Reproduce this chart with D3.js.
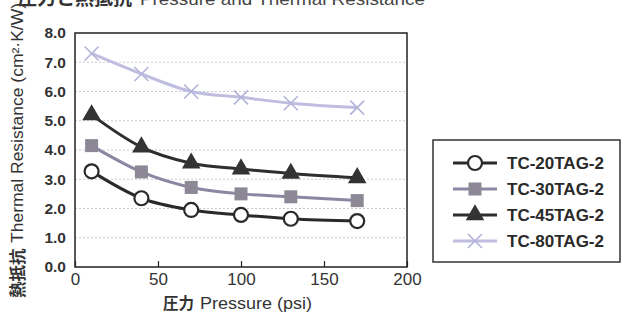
<!DOCTYPE html>
<html>
<head>
<meta charset="utf-8">
<script src="https://cdn.jsdelivr.net/npm/d3@7"></script>
<style>
  body { margin: 0; background: #fff; }
  svg text { font-family: "Liberation Sans", Arial, sans-serif; }
  .jp { font-family: "Noto Sans CJK JP", sans-serif; font-weight: bold; }
</style>
</head>
<body>
<div id="chart"></div>
<script>
// data
var pressure = [10, 40, 70, 100, 130, 170];
var seriesNames = ["TC-20TAG-2", "TC-30TAG-2", "TC-45TAG-2", "TC-80TAG-2"];
var tc20 = [3.27, 2.35, 1.95, 1.78, 1.65, 1.57];
var tc30 = [4.15, 3.25, 2.72, 2.5, 2.4, 2.27];
var tc45 = [5.2, 4.1, 3.55, 3.35, 3.2, 3.05];
var tc80 = [7.3, 6.6, 6.0, 5.8, 5.6, 5.45];
var xTicks = [0, 50, 100, 150, 200];
var yTicks = [0, 1, 2, 3, 4, 5, 6, 7, 8];

var svgWidth = 623;
var svgHeight = 318;

var margin = { top: 33, left: 75, right: 216, bottom: 51 };
var width = svgWidth - margin.left - margin.right;    // 332
var height = svgHeight - margin.top - margin.bottom;  // 234

var svg = d3.select("#chart")
  .append("svg")
  .attr("width", svgWidth)
  .attr("height", svgHeight);

var chartGroup = svg.append("g")
  .attr("transform", `translate(${margin.left}, ${margin.top})`);

var xScale = d3.scaleLinear().domain([0, 200]).range([0, width]);
var yScale = d3.scaleLinear().domain([0, 8]).range([height, 0]);

// dotted grid
chartGroup.selectAll(null)
  .data(yTicks.slice(1, -1))
  .enter().append("line")
  .attr("x1", 0).attr("x2", width)
  .attr("y1", d => yScale(d)).attr("y2", d => yScale(d))
  .attr("stroke", "#c8c8d0")
  .attr("stroke-width", 1)
  .attr("stroke-dasharray", "2,2");

// x axis ticks pointing up
var bottomAxis = d3.axisBottom(xScale)
  .tickValues(xTicks)
  .tickSizeInner(-6)
  .tickSizeOuter(0)
  .tickPadding(9)
  .tickFormat(d3.format("d"));

var xg = chartGroup.append("g")
  .attr("transform", `translate(0, ${height})`)
  .call(bottomAxis);
xg.select(".domain").remove();
xg.selectAll("line").attr("stroke", "#222").attr("stroke-width", 1.2);
xg.selectAll("text")
  .attr("fill", "#333")
  .style("font-size", "17px")
  .attr("dy", "0.5em");

var leftAxis = d3.axisLeft(yScale)
  .tickValues(yTicks)
  .tickSize(0)
  .tickPadding(9)
  .tickFormat(d3.format(".1f"));

var yg = chartGroup.append("g").call(leftAxis);
yg.select(".domain").remove();
yg.selectAll("text")
  .attr("fill", "#333")
  .style("font-size", "15.5px")
  .style("font-weight", "bold");

// frame
chartGroup.append("rect")
  .attr("width", width).attr("height", height)
  .attr("fill", "none")
  .attr("stroke", "#222")
  .attr("stroke-width", 1.5);

var series = [
  { name: seriesNames[0], values: tc20, line: "#2a2a2a", marker: "circle" },
  { name: seriesNames[1], values: tc30, line: "#8a87a2", marker: "square" },
  { name: seriesNames[2], values: tc45, line: "#2e2e2e", marker: "triangle" },
  { name: seriesNames[3], values: tc80, line: "#c0bee0", marker: "cross" }
];

var lineGen = d3.line()
  .x(d => xScale(d[0]))
  .y(d => yScale(d[1]))
  .curve(d3.curveMonotoneX);

function drawMarker(g, type, x, y) {
  if (type === "circle") {
    g.append("circle").attr("cx", x).attr("cy", y).attr("r", 7)
      .attr("fill", "#fff").attr("stroke", "#2a2a2a").attr("stroke-width", 2.2);
  } else if (type === "square") {
    g.append("rect").attr("x", x - 6.5).attr("y", y - 6.5).attr("width", 13).attr("height", 13)
      .attr("fill", "#8c8896");
  } else if (type === "triangle") {
    g.append("path")
      .attr("d", d3.symbol().type(d3.symbolTriangle).size(150)())
      .attr("transform", `translate(${x}, ${y})`)
      .attr("fill", "#333");
  } else {
    g.append("path")
      .attr("d", `M${x - 7},${y - 7}L${x + 7},${y + 7}M${x - 7},${y + 7}L${x + 7},${y - 7}`)
      .attr("stroke", "#b4b2da").attr("stroke-width", 1.6).attr("fill", "none");
  }
}

series.forEach(function (s) {
  var pts = pressure.map((p, i) => [p, s.values[i]]);
  chartGroup.append("path")
    .datum(pts)
    .attr("d", lineGen)
    .attr("fill", "none")
    .attr("stroke", s.line)
    .attr("stroke-width", 3);
  var mg = chartGroup.append("g");
  pts.forEach(function (p) {
    drawMarker(mg, s.marker, xScale(p[0]), yScale(p[1]));
  });
});

// legend
var legend = svg.append("g").attr("transform", "translate(433, 140)");
legend.append("rect")
  .attr("width", 187).attr("height", 122)
  .attr("fill", "#fff")
  .attr("stroke", "#333")
  .attr("stroke-width", 1.5);
series.forEach(function (s, i) {
  var y = 23 + i * 26;
  legend.append("line")
    .attr("x1", 20).attr("x2", 64)
    .attr("y1", y).attr("y2", y)
    .attr("stroke", s.line).attr("stroke-width", 3);
  drawMarker(legend, s.marker, 42, y);
  legend.append("text")
    .attr("x", 74).attr("y", y)
    .attr("dy", "0.36em")
    .attr("fill", "#2a2a2a")
    .style("font-size", "17px")
    .style("font-weight", "bold")
    .text(s.name);
});

// title, partly cut off at the top
svg.append("text")
  .attr("class", "jp")
  .attr("x", 18).attr("y", 5)
  .attr("fill", "#333")
  .style("font-size", "19px")
  .text("圧力と熱抵抗");
svg.append("text")
  .attr("x", 140).attr("y", 5)
  .attr("fill", "#444")
  .style("font-size", "17px")
  .attr("textLength", 285)
  .attr("lengthAdjust", "spacingAndGlyphs")
  .text("Pressure and Thermal Resistance");

// y axis title
svg.append("text")
  .attr("class", "jp")
  .attr("transform", "translate(24, 298) rotate(-90)")
  .attr("fill", "#333")
  .style("font-size", "16.5px")
  .text("熱抵抗");
svg.append("text")
  .attr("transform", "translate(23, 243) rotate(-90)")
  .attr("fill", "#333")
  .style("font-size", "16px")
  .attr("textLength", 240)
  .attr("lengthAdjust", "spacingAndGlyphs")
  .text("Thermal Resistance (cm²·K/W)");

// x axis title
svg.append("text")
  .attr("class", "jp")
  .attr("x", 163).attr("y", 309)
  .attr("fill", "#333")
  .style("font-size", "15.5px")
  .text("圧力");
svg.append("text")
  .attr("x", 200).attr("y", 309)
  .attr("fill", "#333")
  .style("font-size", "17px")
  .attr("textLength", 112)
  .attr("lengthAdjust", "spacingAndGlyphs")
  .text("Pressure (psi)");
</script>
</body>
</html>
